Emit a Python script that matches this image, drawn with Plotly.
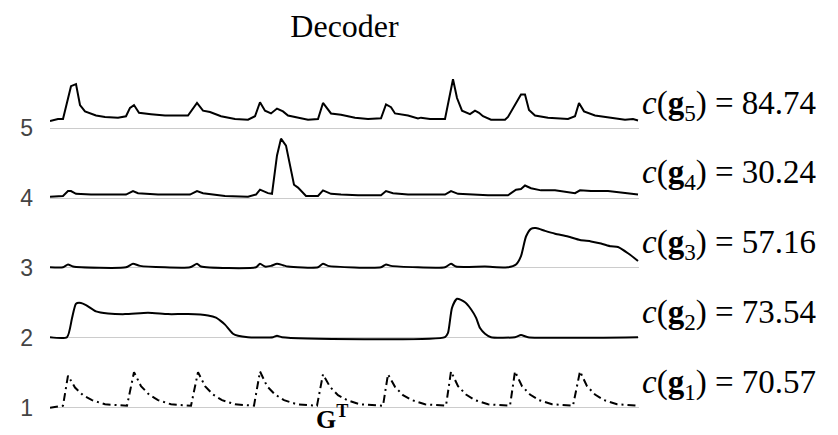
import plotly.graph_objects as go

# time index (samples) and signal values, per row
t5 = [0, 8, 13, 21, 26, 30, 35, 46, 55, 68, 76, 80, 84, 89, 101, 115, 138, 147, 153, 160,
      171, 185, 198, 205, 210, 215, 221, 227, 233, 238, 245, 258, 268, 273, 281, 291, 305, 318,
      331, 336, 341, 345, 358, 368, 371, 380, 395, 403, 407, 412, 420, 425, 429, 433, 441, 455,
      458, 471, 475, 479, 485, 498, 518, 525, 529, 534, 545, 558, 575, 583, 588]
v5 = [0.10, 0.13, 0.13, 0.60, 0.63, 0.33, 0.24, 0.18, 0.16, 0.15, 0.17, 0.29, 0.33, 0.22, 0.20,
      0.18, 0.18, 0.36, 0.25, 0.23, 0.17, 0.13, 0.12, 0.17, 0.37, 0.25, 0.21, 0.28, 0.24, 0.18,
      0.16, 0.12, 0.13, 0.36, 0.21, 0.19, 0.15, 0.13, 0.14, 0.34, 0.30, 0.21, 0.18, 0.14, 0.15,
      0.13, 0.13, 0.70, 0.43, 0.25, 0.20, 0.25, 0.22, 0.17, 0.12, 0.12, 0.16, 0.48, 0.48, 0.26,
      0.18, 0.15, 0.13, 0.17, 0.36, 0.24, 0.18, 0.15, 0.12, 0.13, 0.11]

t4 = [0, 13, 18, 21, 26, 41, 76, 83, 88, 108, 140, 147, 153, 175, 198, 206, 210, 218, 222, 227,
      231, 236, 244, 248, 256, 268, 273, 281, 291, 308, 331, 336, 343, 358, 395, 401, 408, 425,
      438, 458, 466, 471, 475, 481, 491, 505, 518, 525, 530, 541, 558, 575, 588]
v4 = [0.02, 0.03, 0.10, 0.10, 0.06, 0.05, 0.05, 0.10, 0.07, 0.05, 0.05, 0.10, 0.07, 0.03, 0.02,
      0.05, 0.12, 0.07, 0.06, 0.61, 0.85, 0.75, 0.19, 0.15, 0.03, 0.03, 0.11, 0.06, 0.05, 0.04,
      0.04, 0.10, 0.07, 0.05, 0.05, 0.10, 0.06, 0.05, 0.04, 0.04, 0.12, 0.13, 0.18, 0.14, 0.11,
      0.11, 0.08, 0.07, 0.11, 0.10, 0.10, 0.07, 0.05]

t3 = [0, 13, 18, 23, 76, 83, 90, 140, 147, 151, 206, 210, 215, 221, 227, 233, 238, 268, 273, 278,
      331, 336, 341, 395, 401, 406, 435, 458, 466, 471, 476, 481, 486, 495, 505, 518, 530, 541,
      551, 561, 568, 578, 588]
v3 = [0.01, 0.01, 0.05, 0.02, 0.01, 0.06, 0.03, 0.01, 0.06, 0.02, 0.01, 0.06, 0.02, 0.03, 0.06,
      0.04, 0.02, 0.01, 0.06, 0.03, 0.01, 0.05, 0.03, 0.01, 0.06, 0.02, 0.02, 0.01, 0.05, 0.17,
      0.45, 0.56, 0.57, 0.53, 0.49, 0.45, 0.40, 0.38, 0.35, 0.31, 0.30, 0.21, 0.10]

t2 = [0, 17, 22, 26, 31, 36, 46, 58, 75, 98, 118, 138, 158, 166, 170, 175, 183, 188, 198, 223,
      227, 232, 395, 398, 402, 407, 415, 421, 426, 430, 435, 441, 465, 471, 478, 588]
v2 = [0.01, 0.01, 0.28, 0.49, 0.50, 0.47, 0.38, 0.35, 0.34, 0.36, 0.34, 0.34, 0.32, 0.29, 0.25,
      0.19, 0.06, 0.03, 0.01, 0.01, 0.03, 0.01, 0.01, 0.07, 0.43, 0.56, 0.51, 0.41, 0.29, 0.14,
      0.06, 0.01, 0.01, 0.04, 0.01, 0.01]

t1 = [0, 13, 18, 25, 33, 42, 55, 77, 84, 91, 99, 108, 121, 141, 148, 155, 163, 172, 185,
      204, 210, 217, 225, 234, 247, 267, 273, 280, 288, 297, 310, 333, 338, 345, 353, 362, 375,
      396, 401, 408, 416, 425, 438, 460, 465, 472, 480, 489, 502, 523, 530, 537, 545, 554, 567, 588]
v1 = [0.00, 0.03, 0.46, 0.29, 0.18, 0.11, 0.05, 0.03, 0.51, 0.31, 0.19, 0.11, 0.05, 0.03, 0.51,
      0.31, 0.19, 0.11, 0.05, 0.03, 0.52, 0.31, 0.19, 0.11, 0.05, 0.03, 0.48, 0.30, 0.18, 0.11,
      0.05, 0.03, 0.48, 0.30, 0.18, 0.11, 0.05, 0.03, 0.52, 0.31, 0.19, 0.11, 0.05, 0.03, 0.52,
      0.31, 0.19, 0.11, 0.05, 0.03, 0.52, 0.31, 0.19, 0.11, 0.05, 0.03]

row_offsets = [1, 2, 3, 4, 5]
scores = ["70.57", "73.54", "57.16", "30.24", "84.74"]
tick_labels = ["1", "2", "3", "4", "5"]
title_text = "Decoder"
xlabel_text = "<b>G</b><sup><b>T</b></sup>"

series = [(t1, v1), (t2, v2), (t3, v3), (t4, v4), (t5, v5)]
shapes = ["linear", "spline", "spline", "linear", "linear"]

fig = go.Figure()
for i, ((t, v), k) in enumerate(zip(series, row_offsets)):
    line = dict(color="black", width=2, shape=shapes[i])
    if shapes[i] == "spline":
        line["smoothing"] = 0.6
    if i == 0:
        line["dash"] = "8px,4px,2px,4px"
    fig.add_trace(go.Scatter(x=t, y=[k + val for val in v], mode="lines",
                             line=line, showlegend=False, hoverinfo="skip"))

serif = "Liberation Serif"
for k, s in zip(row_offsets, scores):
    fig.add_annotation(text=f"<i>c</i>(<b>g</b><sub>{k}</sub>) = {s}",
                       xref="paper", yref="y", x=1.002, y=k + 0.33,
                       xanchor="left", yanchor="middle", showarrow=False,
                       font=dict(family=serif, size=33, color="black"))

fig.add_annotation(text=xlabel_text, xref="paper", yref="paper", x=(306 - 42) / 589,
                   y=-0.072, xanchor="left", yanchor="bottom", showarrow=False,
                   font=dict(family=serif, size=26, color="black"))

fig.update_layout(
    width=838, height=435,
    margin=dict(l=42, r=207, t=67, b=31),
    paper_bgcolor="white", plot_bgcolor="white",
    title=dict(text=title_text, x=0.5, xref="paper", xanchor="center",
               y=0.96, yref="container", yanchor="middle",
               font=dict(family=serif, size=32, color="black")),
    xaxis=dict(range=[0, 589], visible=False, showgrid=False, zeroline=False),
    yaxis=dict(range=[0.94, 5.76], tickvals=row_offsets, ticktext=tick_labels,
               showgrid=True, gridcolor="#cccccc", gridwidth=1, zeroline=False,
               showline=False, ticks="", ticklabelstandoff=16,
               tickfont=dict(family="Liberation Sans", size=23, color="#444444")),
)

fig.write_html("out.html")
